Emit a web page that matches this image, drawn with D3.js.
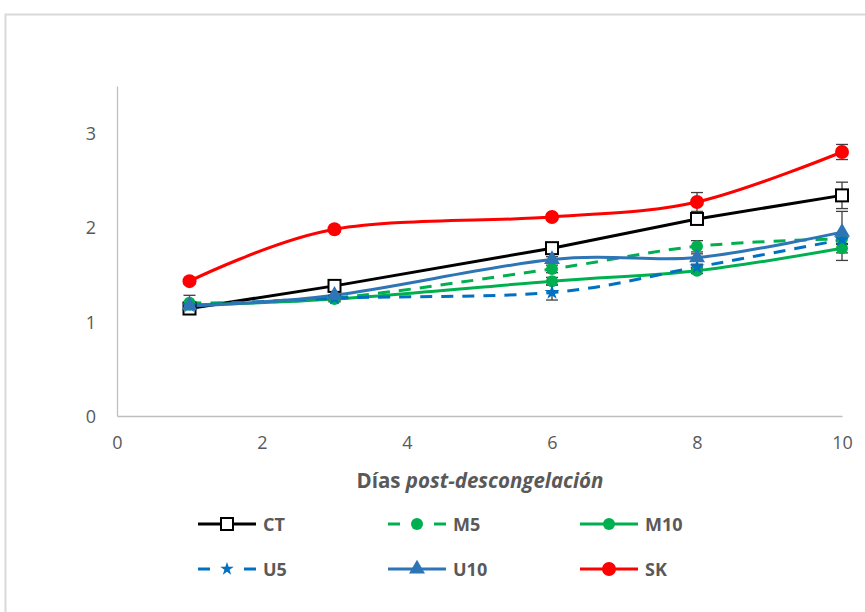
<!DOCTYPE html>
<html>
<head>
<meta charset="utf-8">
<script src="https://cdn.jsdelivr.net/npm/d3@7"></script>
<style>
  html, body { margin: 0; padding: 0; background: #ffffff; }
  svg { display: block; font-family: "Open Sans", "Liberation Sans", sans-serif; }
</style>
</head>
<body>
<svg id="chart" width="865" height="612"></svg>
<script>
// Sampling days after thawing
const days = [1, 3, 6, 8, 10];

// Mean values per treatment
const ctValues  = [1.14, 1.38, 1.78, 2.09, 2.34];
const m5Values  = [1.20, 1.25, 1.56, 1.80, 1.88];
const m10Values = [1.18, 1.24, 1.43, 1.54, 1.78];
const u5Values  = [1.17, 1.25, 1.31, 1.58, 1.87];
const u10Values = [1.17, 1.28, 1.66, 1.68, 1.95];
const skValues  = [1.43, 1.98, 2.11, 2.27, 2.80];

// Error (± half-range) per treatment
const ctErrors  = [0.02, 0.03, 0.03, 0.03, 0.14];
const m5Errors  = [0.08, 0.03, 0.04, 0.06, 0.05];
const m10Errors = [0.03, 0.03, 0.04, 0.03, 0.13];
const u5Errors  = [0.03, 0.03, 0.08, 0.03, 0.05];
const u10Errors = [0.03, 0.04, 0.03, 0.04, 0.22];
const skErrors  = [0.03, 0.03, 0.03, 0.10, 0.08];

const xTicks = [0, 2, 4, 6, 8, 10];
const yTicks = [0, 1, 2, 3];

const series = [
  { name: "CT",  values: ctValues,  errors: ctErrors,  color: "#000000", dash: null,   marker: "square",   smooth: false, legendCol: 0, legendRow: 0 },
  { name: "M5",  values: m5Values,  errors: m5Errors,  color: "#00b050", dash: "12,9", marker: "circle",   smooth: true,  legendCol: 1, legendRow: 0 },
  { name: "M10", values: m10Values, errors: m10Errors, color: "#00b050", dash: null,   marker: "circle",   smooth: true,  legendCol: 2, legendRow: 0 },
  { name: "U5",  values: u5Values,  errors: u5Errors,  color: "#0070c0", dash: "12,9", marker: "star",     smooth: true,  legendCol: 0, legendRow: 1 },
  { name: "U10", values: u10Values, errors: u10Errors, color: "#2e75b6", dash: null,   marker: "triangle", smooth: true,  legendCol: 1, legendRow: 1 },
  { name: "SK",  values: skValues,  errors: skErrors,  color: "#ff0000", dash: null,   marker: "bigcircle",smooth: true,  legendCol: 2, legendRow: 1 }
];

const svg = d3.select("#chart");
const textColor = "#595959";
const axisColor = "#bfbfbf";

// Outer chart frame
svg.append("rect")
  .attr("x", 5.5).attr("y", 14.5)
  .attr("width", 880).attr("height", 620)
  .attr("fill", "none")
  .attr("stroke", "#d9d9d9")
  .attr("stroke-width", 2);

const x = d3.scaleLinear().domain([0, 10]).range([117, 842]);
const y = d3.scaleLinear().domain([0, 3.5]).range([416, 86]);

// Axes
const xAxis = d3.axisBottom(x).tickValues(xTicks).tickSize(0).tickPadding(20).tickFormat(d3.format("d"));
const yAxis = d3.axisLeft(y).tickValues(yTicks).tickSize(0).tickPadding(21).tickFormat(d3.format("d"));

const gx = svg.append("g").attr("transform", `translate(0,${y(0)})`).call(xAxis);
const gy = svg.append("g").attr("transform", `translate(${x(0)},0)`).call(yAxis);
[gx, gy].forEach(g => {
  g.select(".domain").attr("stroke", axisColor).attr("stroke-width", 1.3);
  g.selectAll("text").attr("fill", textColor).style("font-size", "18px").style("font-family", "'Open Sans', sans-serif");
});
gy.selectAll("text").attr("dy", "0.35em");

// Axis title
const title = svg.append("text")
  .attr("x", 480).attr("y", 488)
  .attr("text-anchor", "middle")
  .attr("fill", textColor)
  .style("font-size", "20.5px")
  .style("font-weight", "bold");
title.append("tspan").text("Días ");
title.append("tspan").style("font-style", "italic").text("post-descongelación");

function drawMarker(g, type, color, cx, cy, scale) {
  const s = scale || 1;
  if (type === "square") {
    g.append("rect")
      .attr("x", cx - 6 * s).attr("y", cy - 6 * s)
      .attr("width", 12 * s).attr("height", 12 * s)
      .attr("fill", "#ffffff").attr("stroke", "#000000").attr("stroke-width", 2);
  } else if (type === "circle") {
    g.append("circle").attr("cx", cx).attr("cy", cy).attr("r", 6 * s).attr("fill", color);
  } else if (type === "bigcircle") {
    g.append("circle").attr("cx", cx).attr("cy", cy).attr("r", 7 * s).attr("fill", color);
  } else if (type === "triangle") {
    g.append("path")
      .attr("transform", `translate(${cx},${cy})`)
      .attr("d", d3.symbol(d3.symbolTriangle, 110 * s * s)())
      .attr("fill", color);
  } else if (type === "star") {
    g.append("path")
      .attr("transform", `translate(${cx},${cy})`)
      .attr("d", d3.symbol(d3.symbolStar, 70 * s * s)())
      .attr("fill", color);
  }
}

const plot = svg.append("g");

// Lines
series.forEach(s => {
  const pts = days.map((d, i) => [d, s.values[i]]);
  const line = d3.line()
    .x(d => x(d[0])).y(d => y(d[1]))
    .curve(s.smooth ? d3.curveCatmullRom.alpha(0) : d3.curveLinear);
  plot.append("path")
    .datum(pts)
    .attr("d", line)
    .attr("fill", "none")
    .attr("stroke", s.color)
    .attr("stroke-width", 3)
    .attr("stroke-dasharray", s.dash)
    .attr("stroke-linejoin", "round");
});

// Error bars
const errG = svg.append("g").attr("stroke", "#404040").attr("stroke-width", 1.3);
series.forEach(s => {
  days.forEach((d, i) => {
    const cx = x(d);
    const hi = y(s.values[i] + s.errors[i]);
    const lo = y(s.values[i] - s.errors[i]);
    errG.append("line").attr("x1", cx).attr("x2", cx).attr("y1", hi).attr("y2", lo);
    errG.append("line").attr("x1", cx - 6).attr("x2", cx + 6).attr("y1", hi).attr("y2", hi);
    errG.append("line").attr("x1", cx - 6).attr("x2", cx + 6).attr("y1", lo).attr("y2", lo);
  });
});

// Markers
const markG = svg.append("g");
series.forEach(s => {
  days.forEach((d, i) => drawMarker(markG, s.marker, s.color, x(d), y(s.values[i])));
});

// Legend
const legendCols = [198, 388, 580];
const legendRows = [524, 569];
const legG = svg.append("g");
series.forEach(s => {
  const lx = legendCols[s.legendCol];
  const ly = legendRows[s.legendRow];
  if (s.dash) {
    legG.append("line").attr("x1", lx).attr("x2", lx + 12).attr("y1", ly).attr("y2", ly)
      .attr("stroke", s.color).attr("stroke-width", 3);
    legG.append("line").attr("x1", lx + 46).attr("x2", lx + 58).attr("y1", ly).attr("y2", ly)
      .attr("stroke", s.color).attr("stroke-width", 3);
  } else {
    legG.append("line").attr("x1", lx).attr("x2", lx + 58).attr("y1", ly).attr("y2", ly)
      .attr("stroke", s.color).attr("stroke-width", 3);
  }
  drawMarker(legG, s.marker, s.color, lx + 29, ly, s.marker === "star" ? 0.9 : 1);
  legG.append("text")
    .attr("x", lx + 65).attr("y", ly + 6.5)
    .attr("fill", textColor)
    .style("font-size", "18px")
    .style("font-weight", "bold")
    .text(s.name);
});
</script>
</body>
</html>
